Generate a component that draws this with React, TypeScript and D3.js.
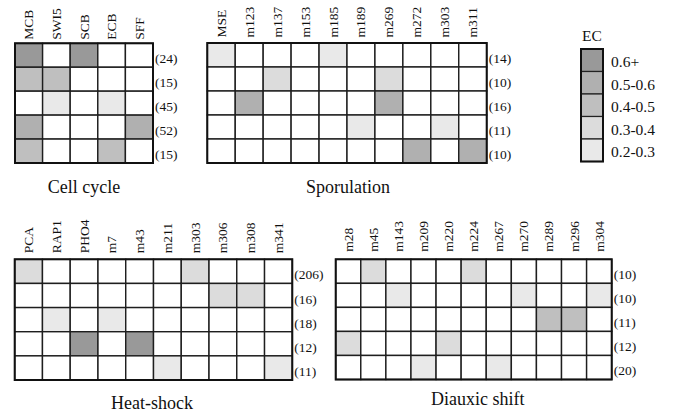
import React from "react";
import * as d3 from "d3";

// EC bins (legend), darkest first
const ecLabels = ["0.6+", "0.5-0.6", "0.4-0.5", "0.3-0.4", "0.2-0.3"];
const ecMids = [0.65, 0.55, 0.45, 0.35, 0.25];

// Cell cycle
const ccMotifs = ["MCB", "SWI5", "SCB", "ECB", "SFF"];
const ccCounts = ["(24)", "(15)", "(45)", "(52)", "(15)"];
const ccValues = [
  [0.65, 0, 0.65, 0, 0],
  [0.45, 0.45, 0, 0, 0],
  [0, 0.25, 0, 0.25, 0],
  [0.55, 0, 0, 0, 0.55],
  [0.45, 0, 0, 0.45, 0],
];

// Sporulation
const spMotifs = ["MSE", "m123", "m137", "m153", "m185", "m189", "m269", "m272", "m303", "m311"];
const spCounts = ["(14)", "(10)", "(16)", "(11)", "(10)"];
const spValues = [
  [0.25, 0, 0, 0, 0.25, 0, 0, 0, 0, 0],
  [0, 0, 0.35, 0, 0, 0, 0.35, 0, 0, 0],
  [0, 0.55, 0, 0, 0, 0, 0.55, 0, 0, 0],
  [0, 0, 0, 0, 0, 0.25, 0, 0, 0.25, 0],
  [0, 0, 0, 0, 0, 0, 0, 0.55, 0, 0.55],
];

// Heat-shock
const hsMotifs = ["PCA", "RAP1", "PHO4", "m7", "m43", "m211", "m303", "m306", "m308", "m341"];
const hsCounts = ["(206)", "(16)", "(18)", "(12)", "(11)"];
const hsValues = [
  [0.35, 0, 0, 0, 0, 0, 0.35, 0, 0, 0],
  [0, 0, 0, 0, 0, 0, 0, 0.35, 0.35, 0],
  [0, 0.25, 0, 0.25, 0, 0, 0, 0, 0, 0],
  [0, 0, 0.65, 0, 0.65, 0, 0, 0, 0, 0],
  [0, 0, 0, 0, 0, 0.25, 0, 0, 0, 0.25],
];

// Diauxic shift
const dsMotifs = ["m28", "m45", "m143", "m209", "m220", "m224", "m267", "m270", "m289", "m296", "m304"];
const dsCounts = ["(10)", "(10)", "(11)", "(12)", "(20)"];
const dsValues = [
  [0, 0.35, 0, 0, 0, 0.35, 0, 0, 0, 0, 0],
  [0, 0, 0.25, 0, 0, 0, 0, 0.25, 0, 0, 0.25],
  [0, 0, 0, 0, 0, 0, 0, 0, 0.45, 0.45, 0],
  [0.35, 0, 0, 0, 0.35, 0, 0, 0, 0, 0, 0],
  [0, 0, 0, 0.25, 0, 0, 0.25, 0, 0, 0, 0],
];

const FONT = "'Liberation Serif', 'Times New Roman', serif";

const color = d3
  .scaleThreshold<number, string>()
  .domain([0.2, 0.3, 0.4, 0.5, 0.6])
  .range(["#ffffff", "#e9e9e9", "#dcdcdc", "#bfbfbf", "#b0b0b0", "#999999"]);

type PanelProps = {
  title: string;
  motifs: string[];
  counts: string[];
  values: number[][];
  x0: number;
  x1: number;
  y0: number;
  y1: number;
  labelGap: number;
  titleY: number;
  titleDx?: number;
};

const Panel = ({ title, motifs, counts, values, x0, x1, y0, y1, labelGap, titleY, titleDx = 0 }: PanelProps) => {
  const x = d3.scaleBand<number>().domain(d3.range(motifs.length)).range([x0, x1]);
  const y = d3.scaleBand<number>().domain(d3.range(counts.length)).range([y0, y1]);
  const bw = x.bandwidth();
  const bh = y.bandwidth();
  return (
    <g>
      {values.map((row, i) =>
        row.map((v, j) => (
          <rect
            key={`${i}-${j}`}
            x={x(j)}
            y={y(i)}
            width={bw}
            height={bh}
            fill={color(v)}
            stroke="#1e1e1e"
            strokeWidth={1.4}
          />
        ))
      )}
      <rect x={x0} y={y0} width={x1 - x0} height={y1 - y0} fill="none" stroke="#111" strokeWidth={2} />
      {motifs.map((m, j) => (
        <text
          key={m}
          transform={`translate(${(x(j) ?? 0) + bw / 2 + 4.5},${y0 - labelGap}) rotate(-90)`}
          fontFamily={FONT}
          fontSize={13.5}
          fill="#111"
        >
          {m}
        </text>
      ))}
      {counts.map((c, i) => (
        <text
          key={i}
          x={x1 + 2}
          y={(y(i) ?? 0) + bh / 2 + 8}
          fontFamily={FONT}
          fontSize={13.5}
          fill="#111"
        >
          {c}
        </text>
      ))}
      <text
        x={(x0 + x1) / 2 + titleDx}
        y={titleY}
        textAnchor="middle"
        fontFamily={FONT}
        fontSize={18}
        fill="#111"
      >
        {title}
      </text>
    </g>
  );
};

const Legend = () => {
  const lx = 581;
  const y = d3.scaleBand<number>().domain(d3.range(ecLabels.length)).range([49, 161.5]);
  return (
    <g>
      <text x={592} y={41} textAnchor="middle" fontFamily={FONT} fontSize={15.5} fill="#111">
        EC
      </text>
      {ecMids.map((v, i) => (
        <rect
          key={i}
          x={lx}
          y={y(i)}
          width={22}
          height={y.bandwidth()}
          fill={color(v)}
          stroke="#222"
          strokeWidth={1.2}
        />
      ))}
      <rect x={lx} y={49} width={22} height={112.5} fill="none" stroke="#111" strokeWidth={2} />
      {ecLabels.map((l, i) => (
        <text
          key={l}
          x={611}
          y={(y(i) ?? 0) + y.bandwidth() / 2 + 7}
          fontFamily={FONT}
          fontSize={15.5}
          fill="#111"
        >
          {l}
        </text>
      ))}
    </g>
  );
};

export default function App() {
  return (
    <svg
      width={674}
      height={415}
      style={{ position: "absolute", left: 0, top: 0, background: "#fff" }}
    >
      <Panel title="Cell cycle" motifs={ccMotifs} counts={ccCounts} values={ccValues}
        x0={15} x1={153} y0={43.3} y1={163} labelGap={3.5} titleY={193} />
      <Panel title="Sporulation" motifs={spMotifs} counts={spCounts} values={spValues}
        x0={207.3} x1={486.7} y0={43} y1={163} labelGap={5.5} titleY={193} titleDx={1} />
      <Panel title="Heat-shock" motifs={hsMotifs} counts={hsCounts} values={hsValues}
        x0={14.7} x1={292.3} y0={259.3} y1={380} labelGap={6} titleY={409} titleDx={-1.5} />
      <Panel title="Diauxic shift" motifs={dsMotifs} counts={dsCounts} values={dsValues}
        x0={335.7} x1={611.7} y0={259.3} y1={379.5} labelGap={7.5} titleY={405} titleDx={4} />
      <Legend />
    </svg>
  );
}
